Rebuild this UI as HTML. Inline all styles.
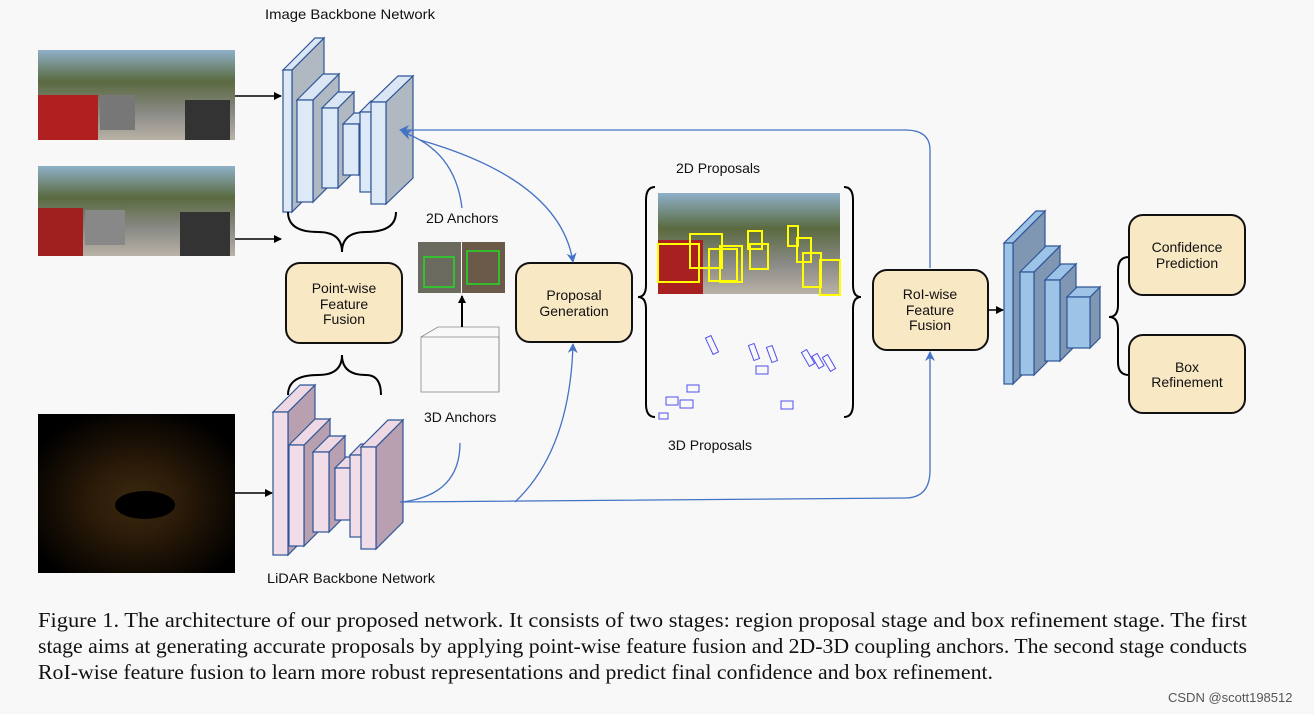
<!DOCTYPE html>
<html><head><meta charset="utf-8"><style>
body{margin:0;background:#f8f8f8;}
svg{display:block}
.t{font-family:"Liberation Sans",sans-serif;font-size:14px;fill:#111}
.c{font-family:"Liberation Serif",serif;font-size:21px;fill:#111}
</style></head><body>
<svg width="1314" height="714" viewBox="0 0 1314 714" xmlns="http://www.w3.org/2000/svg">
<defs>
<marker id="ak" markerWidth="8" markerHeight="8" refX="7" refY="4" orient="auto" markerUnits="userSpaceOnUse"><path d="M0,0 L8,4 L0,8 Z" fill="#000"/></marker>
<marker id="ab" markerWidth="10" markerHeight="10" refX="9" refY="5" orient="auto" markerUnits="userSpaceOnUse"><path d="M0,0 L10,5 L0,10 L3,5 Z" fill="#4472c4"/></marker>
<linearGradient id="sky" x1="0" y1="0" x2="0" y2="1"><stop offset="0" stop-color="#8fb0c8"/><stop offset="0.35" stop-color="#5a6a40"/><stop offset="0.7" stop-color="#8a8a86"/><stop offset="1" stop-color="#b9b2a6"/></linearGradient>
<radialGradient id="lid" cx="0.5" cy="0.55" r="0.6"><stop offset="0" stop-color="#3a2a10"/><stop offset="0.4" stop-color="#2a1a08"/><stop offset="1" stop-color="#000"/></radialGradient>
</defs>
<rect width="1314" height="714" fill="#f8f8f8"/>

<rect x="38" y="50" width="197" height="90" fill="url(#sky)"/>
<rect x="38" y="95" width="60" height="45" fill="#b02020"/>
<rect x="100" y="95" width="35" height="35" fill="#777"/>
<rect x="185" y="100" width="45" height="40" fill="#333"/>
<rect x="38" y="166" width="197" height="90" fill="url(#sky)"/>
<rect x="38" y="208" width="45" height="48" fill="#a02020"/>
<rect x="85" y="210" width="40" height="35" fill="#888"/>
<rect x="180" y="212" width="50" height="44" fill="#333"/>
<rect x="38" y="414" width="197" height="159" fill="url(#lid)"/>
<ellipse cx="145" cy="505" rx="30" ry="14" fill="#000"/>

<text class="t" x="265" y="19" textLength="170" lengthAdjust="spacingAndGlyphs">Image Backbone Network</text>
<text class="t" x="267" y="583" textLength="168" lengthAdjust="spacingAndGlyphs">LiDAR Backbone Network</text>

<line x1="235" y1="96" x2="281" y2="96" stroke="#000" stroke-width="1.5" marker-end="url(#ak)"/>
<line x1="235" y1="239" x2="281" y2="239" stroke="#000" stroke-width="1.5" marker-end="url(#ak)"/>
<line x1="235" y1="493" x2="272" y2="493" stroke="#000" stroke-width="1.5" marker-end="url(#ak)"/>

<g stroke="#2f5597" stroke-width="1.2">
<polygon points="292,70 324,38 324,180 292,212" fill="#b0b8c2"/><polygon points="283,70 315,38 324,38 292,70" fill="#dbe6f4"/><rect x="283" y="70" width="9" height="142" fill="#dde9f7"/>
<polygon points="313,100 339,74 339,176 313,202" fill="#b0b8c2"/><polygon points="297,100 323,74 339,74 313,100" fill="#dbe6f4"/><rect x="297" y="100" width="16" height="102" fill="#dde9f7"/>
<polygon points="338,108 354,92 354,172 338,188" fill="#b0b8c2"/><polygon points="322,108 338,92 354,92 338,108" fill="#dbe6f4"/><rect x="322" y="108" width="16" height="80" fill="#dde9f7"/>
<polygon points="359,124 370,113 370,164 359,175" fill="#b0b8c2"/><polygon points="343,124 354,113 370,113 359,124" fill="#dbe6f4"/><rect x="343" y="124" width="16" height="51" fill="#dde9f7"/>
<polygon points="360,112 371,101 386,101 371,112" fill="#dbe6f4"/><rect x="360" y="112" width="11" height="80" fill="#dde9f7"/>
<polygon points="386,102 413,76 413,178 386,204" fill="#b0b8c2"/><polygon points="371,102 398,76 413,76 386,102" fill="#dbe6f4"/><rect x="371" y="102" width="15" height="102" fill="#dde9f7"/>
</g>
<g stroke="#2f5597" stroke-width="1.2">
<polygon points="288,412 315,385 315,528 288,555" fill="#b8a0b0"/><polygon points="273,412 300,385 315,385 288,412" fill="#eed8e4"/><rect x="273" y="412" width="15" height="143" fill="#f1dde8"/>
<polygon points="304,445 330,419 330,520 304,546" fill="#b8a0b0"/><polygon points="289,445 315,419 330,419 304,445" fill="#eed8e4"/><rect x="289" y="445" width="15" height="101" fill="#f1dde8"/>
<polygon points="329,452 345,436 345,516 329,532" fill="#b8a0b0"/><polygon points="313,452 329,436 345,436 329,452" fill="#eed8e4"/><rect x="313" y="452" width="16" height="80" fill="#f1dde8"/>
<polygon points="335,468 346,457 362,457 351,468" fill="#eed8e4"/><rect x="335" y="468" width="16" height="52" fill="#f1dde8"/>
<polygon points="350,455 361,444 376,444 365,455" fill="#eed8e4"/><rect x="350" y="455" width="15" height="82" fill="#f1dde8"/>
<polygon points="376,447 403,420 403,522 376,549" fill="#b8a0b0"/><polygon points="361,447 388,420 403,420 376,447" fill="#eed8e4"/><rect x="361" y="447" width="15" height="102" fill="#f1dde8"/>
</g>
<g stroke="#2f5597" stroke-width="1.2">
<polygon points="1013,243 1045,211 1045,352 1013,384" fill="#7f97b2"/><polygon points="1004,243 1036,211 1045,211 1013,243" fill="#9dc3e6"/><rect x="1004" y="243" width="9" height="141" fill="#9dc3e6"/>
<polygon points="1034,272 1060,246 1060,349 1034,375" fill="#7f97b2"/><polygon points="1020,272 1046,246 1060,246 1034,272" fill="#9dc3e6"/><rect x="1020" y="272" width="14" height="103" fill="#9dc3e6"/>
<polygon points="1060,280 1076,264 1076,345 1060,361" fill="#7f97b2"/><polygon points="1045,280 1061,264 1076,264 1060,280" fill="#9dc3e6"/><rect x="1045" y="280" width="15" height="81" fill="#9dc3e6"/>
<polygon points="1090,297 1100,287 1100,338 1090,348" fill="#7f97b2"/><polygon points="1067,297 1077,287 1100,287 1090,297" fill="#9dc3e6"/><rect x="1067" y="297" width="23" height="51" fill="#9dc3e6"/>
</g>

<g fill="none" stroke="#000" stroke-width="2">
<path d="M288,212 Q288,232 318,232 Q342,232 342,252 Q342,232 366,232 Q396,232 396,212"/>
<path d="M288,395 Q288,375 318,375 Q342,375 342,355 Q342,375 366,375 Q381,375 381,395"/>
<path d="M655,187 Q646,187 646,200 L646,285 Q646,297 638,297 Q646,297 646,309 L646,404 Q646,417 655,417"/>
<path d="M844,187 Q853,187 853,200 L853,285 Q853,297 861,297 Q853,297 853,309 L853,404 Q853,417 844,417"/>
<path d="M1129,257 Q1118,257 1118,270 L1118,305 Q1118,317 1109,317 Q1118,317 1118,329 L1118,362 Q1118,375 1129,375"/>
</g>

<g fill="#f8e8c4" stroke="#111" stroke-width="2">
<rect x="286" y="263" width="116" height="80" rx="14"/>
<rect x="516" y="263" width="116" height="79" rx="14"/>
<rect x="873" y="270" width="115" height="80" rx="14"/>
<rect x="1129" y="215" width="116" height="80" rx="14"/>
<rect x="1129" y="335" width="116" height="78" rx="14"/>
</g>
<g class="t" text-anchor="middle">
<text x="344" y="293">Point-wise</text><text x="344" y="309">Feature</text><text x="344" y="324">Fusion</text>
<text x="574" y="300">Proposal</text><text x="574" y="316">Generation</text>
<text x="930" y="299">RoI-wise</text><text x="930" y="315">Feature</text><text x="930" y="330">Fusion</text>
<text x="1187" y="252">Confidence</text><text x="1187" y="268">Prediction</text>
<text x="1187" y="372">Box</text><text x="1187" y="387">Refinement</text>
</g>

<text class="t" x="426" y="223">2D Anchors</text>
<text class="t" x="424" y="422">3D Anchors</text>
<rect x="418" y="242" width="43" height="51" fill="#6b6a5e"/>
<rect x="462" y="242" width="43" height="51" fill="#6b5a4a"/>
<rect x="424" y="257" width="30" height="30" fill="none" stroke="#22dd22" stroke-width="1.5"/>
<rect x="467" y="251" width="32" height="33" fill="none" stroke="#22dd22" stroke-width="1.5"/>
<g fill="none" stroke="#888" stroke-width="0.8"><rect x="421" y="337" width="78" height="55"/><path d="M421,337 L438,327 L499,327 L499,382 L499,392 M499,327 L499,337"/></g>
<line x1="462" y1="327" x2="462" y2="296" stroke="#000" stroke-width="2" marker-end="url(#ak)"/>

<text class="t" x="676" y="173">2D Proposals</text>
<text class="t" x="668" y="450">3D Proposals</text>
<rect x="658" y="193" width="182" height="101" fill="url(#sky)"/>
<rect x="658" y="240" width="45" height="54" fill="#a82020"/>
<g fill="none" stroke="#ffff00" stroke-width="2">
<rect x="658" y="244" width="41" height="38"/><rect x="690" y="234" width="32" height="34"/><rect x="709" y="249" width="28" height="32"/><rect x="720" y="246" width="22" height="36"/>
<rect x="748" y="231" width="14" height="18"/><rect x="750" y="244" width="18" height="25"/><rect x="788" y="226" width="10" height="20"/><rect x="797" y="238" width="14" height="24"/><rect x="803" y="253" width="18" height="34"/><rect x="820" y="260" width="20" height="35"/>
</g>
<g fill="none" stroke="#5050ee" stroke-width="1">
<rect x="709" y="336" width="6" height="18" transform="rotate(-25 712 345)"/>
<rect x="751" y="344" width="6" height="16" transform="rotate(-20 754 352)"/>
<rect x="769" y="346" width="6" height="16" transform="rotate(-20 772 354)"/>
<rect x="756" y="366" width="12" height="8"/>
<rect x="805" y="350" width="6" height="16" transform="rotate(-30 808 358)"/>
<rect x="815" y="354" width="6" height="14" transform="rotate(-30 818 361)"/>
<rect x="826" y="355" width="6" height="16" transform="rotate(-30 829 363)"/>
<rect x="687" y="385" width="12" height="7"/><rect x="666" y="397" width="12" height="8"/><rect x="680" y="400" width="13" height="8"/>
<rect x="659" y="413" width="9" height="6"/><rect x="781" y="401" width="12" height="8"/>
</g>

<g fill="none" stroke="#4472c4" stroke-width="1.3">
<path d="M930,268 L930,150 Q930,130 905,130 L400,130" marker-end="url(#ab)"/>
<path d="M400,502 L905,498 Q930,498 930,470 L930,352" marker-end="url(#ab)"/>
<path d="M462,208 Q455,150 402,132" marker-end="url(#ab)"/>
<path d="M420,140 Q560,180 573,262" marker-end="url(#ab)"/>
<path d="M460,443 Q460,495 402,502"/>
<path d="M515,502 Q570,450 573,344" marker-end="url(#ab)"/>
</g>
<line x1="988" y1="310" x2="1003" y2="310" stroke="#000" stroke-width="1.5" marker-end="url(#ak)"/>

<text class="c" x="38" y="627" textLength="1209" lengthAdjust="spacingAndGlyphs">Figure 1. The architecture of our proposed network. It consists of two stages: region proposal stage and box refinement stage. The first</text>
<text class="c" x="38" y="653" textLength="1209" lengthAdjust="spacingAndGlyphs">stage aims at generating accurate proposals by applying point-wise feature fusion and 2D-3D coupling anchors. The second stage conducts</text>
<text class="c" x="38" y="679" textLength="955" lengthAdjust="spacingAndGlyphs">RoI-wise feature fusion to learn more robust representations and predict final confidence and box refinement.</text>
<text x="1168" y="702" style="font-family:'Liberation Sans',sans-serif;font-size:13px;fill:#555">CSDN @scott198512</text>
</svg>
</body></html>
